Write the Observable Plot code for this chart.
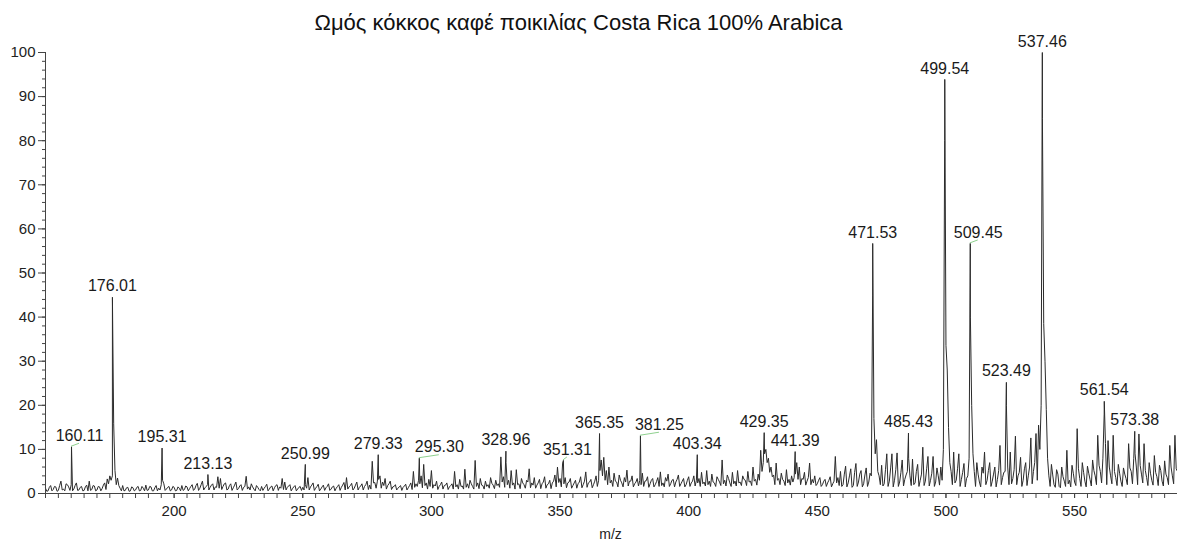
<!DOCTYPE html>
<html>
<head>
<meta charset="utf-8">
<script src="https://cdn.jsdelivr.net/npm/d3@7"></script>
<script src="https://cdn.jsdelivr.net/npm/@observablehq/plot@0.6"></script>
<style>
  html, body { margin: 0; padding: 0; background: #fff; }
  #chart svg { display: block; }
</style>
</head>
<body>
<div id="chart"></div>
<script>
// ---------- DATA ----------
const title = "Ωμός κόκκος καφέ ποικιλίας Costa Rica 100% Arabica";
const xLabel = "m/z";

// profile intensities on a 1-unit m/z grid, starting at m/z 150 (relative abundance, %)
const gridStart = 150;
const gridIntensity = [
  1.2, 0.6, 1.8, 0.9, 1.5, 0.7, 2.8, 1.0, 2.2, 1.5,   // 150
  2.0, 1.0, 2.4, 0.8, 1.6, 0.7, 1.9, 2.8, 0.9, 1.7,   // 160
  0.8, 1.5, 1.1, 2.4, 3.3, 4.0, 4.0, 5.2, 3.5, 1.2,   // 170
  1.8, 0.7, 1.4, 0.6, 1.3, 0.8, 1.6, 0.7, 1.2, 1.9,   // 180
  0.8, 1.5, 0.6, 1.8, 1.2, 2.0, 2.2, 1.0, 1.6, 0.8,   // 190
  1.4, 0.7, 1.2, 1.8, 0.9, 1.5, 1.1, 2.0, 1.0, 2.3,   // 200
  1.2, 2.8, 1.3, 2.0, 1.4, 2.2, 1.5, 3.8, 3.4, 1.6,   // 210
  2.4, 1.0, 2.2, 1.3, 2.6, 1.1, 2.0, 1.4, 3.9, 1.5,   // 220
  2.2, 1.0, 1.8, 0.9, 1.6, 1.2, 2.1, 1.0, 1.7, 1.3,   // 230
  2.0, 1.5, 3.4, 2.6, 1.4, 2.0, 1.1, 1.8, 1.0, 1.6,   // 240
  1.4, 2.0, 3.6, 1.5, 2.4, 1.2, 2.1, 1.0, 1.9, 1.3,   // 250
  2.2, 1.0, 1.7, 1.2, 2.0, 1.4, 2.5, 3.6, 1.5, 2.3,   // 260
  1.2, 2.6, 1.4, 2.2, 1.6, 2.8, 1.9, 7.3, 2.5, 2.8,   // 270
  4.0, 2.6, 3.4, 1.8, 2.8, 1.5, 2.0, 1.2, 1.8, 1.4,   // 280
  2.1, 1.3, 2.4, 5.0, 2.2, 3.0, 4.0, 6.6, 2.4, 3.2,   // 290
  5.2, 2.0, 2.8, 1.6, 2.6, 1.8, 2.4, 1.5, 2.2, 5.0,   // 300
  2.0, 3.2, 1.7, 5.5, 2.2, 3.0, 1.6, 7.5, 2.4, 3.4,   // 310
  1.8, 2.8, 2.0, 3.6, 1.9, 3.0, 2.2, 8.3, 3.8, 7.0,   // 320
  3.0, 5.2, 2.4, 5.4, 2.2, 3.4, 2.0, 3.0, 5.6, 2.4,   // 330
  3.6, 1.9, 3.2, 2.2, 3.8, 2.0, 3.0, 2.4, 4.2, 6.0,   // 340
  3.4, 6.9, 3.6, 2.4, 3.4, 1.8, 3.0, 2.2, 3.8, 2.0,   // 350
  4.9, 2.4, 3.2, 2.0, 4.0, 3.0, 7.6, 8.2, 5.2, 6.0,   // 360
  3.0, 4.6, 2.6, 4.2, 2.4, 3.6, 5.3, 2.8, 4.0, 2.2,   // 370
  3.4, 3.0, 4.6, 2.8, 3.8, 2.2, 3.4, 2.0, 3.6, 4.9,   // 380
  2.4, 3.6, 4.4, 2.2, 3.2, 2.6, 4.2, 2.2, 3.4, 2.0,   // 390
  3.8, 2.4, 4.0, 3.0, 3.4, 4.8, 2.6, 5.2, 2.8, 4.4,   // 400
  2.4, 3.8, 2.6, 7.6, 3.0, 4.2, 2.4, 4.8, 2.8, 5.2,   // 410
  2.6, 4.0, 3.0, 5.0, 2.8, 6.0, 3.2, 4.4, 9.8, 7.0,   // 420
  10.0, 8.0, 6.0, 4.2, 6.9, 3.4, 4.6, 2.8, 5.4, 3.2,  // 430
  4.0, 3.6, 7.0, 6.0, 3.4, 4.8, 2.8, 6.9, 3.2, 4.0,   // 440
  2.2, 3.6, 2.0, 3.2, 2.4, 3.8, 2.2, 8.4, 3.6, 5.0,   // 450
  2.0, 6.2, 2.4, 5.6, 1.8, 6.8, 2.6, 5.2, 2.2, 5.8,   // 460
  2.6, 4.0, 17.0, 12.2, 4.0, 6.4, 2.2, 9.0, 2.8, 9.0, // 470
  3.0, 9.2, 2.6, 7.6, 3.2, 5.0, 4.0, 7.8, 2.4, 6.6,   // 480
  3.0, 10.5, 2.8, 8.4, 3.0, 8.4, 2.6, 4.0, 6.0, 10.0, // 490
  33.6, 15.0, 5.0, 9.4, 3.0, 9.0, 3.2, 6.8, 3.4, 8.0, // 500
  20.0, 5.0, 7.0, 2.6, 6.0, 9.4, 3.0, 7.0, 2.8, 6.0,  // 510
  3.2, 10.9, 3.6, 5.0, 6.0, 9.4, 3.4, 13.0, 4.0, 8.2, // 520
  3.0, 7.0, 4.0, 12.6, 5.0, 13.6, 15.5, 20.0, 38.5, 19.0, // 530
  4.0, 6.6, 2.0, 5.4, 1.6, 6.0, 2.8, 9.8, 3.0, 6.4,   // 540
  2.6, 14.7, 3.4, 7.0, 2.8, 6.2, 3.2, 7.6, 4.0, 13.2, // 550
  5.0, 8.0, 11.3, 12.0, 4.0, 13.2, 3.6, 6.6, 2.8, 5.8, // 560
  3.4, 11.3, 5.0, 8.0, 6.0, 13.5, 4.4, 11.3, 3.6, 7.0, // 570
  3.0, 8.6, 3.8, 6.4, 2.8, 7.4, 3.6, 10.9, 4.0, 13.2, // 580
  5.0                                                  // 590
];

// profile intensities at the half-unit points m/z 150.5 … 589.5
const halfIntensity = [
  0.5, 1.4, 0.6, 1.6, 0.5, 1.8, 0.8, 0.6, 2.0, 0.7,   // 150.5
  0.6, 1.8, 0.7, 1.4, 0.6, 1.5, 0.6, 0.7, 1.8, 0.6,   // 160.5
  1.6, 0.6, 1.9, 0.9, 2.2, 3.0, 15.8, 2.0, 1.8, 0.6,  // 170.5
  0.6, 1.3, 0.5, 1.5, 0.6, 1.4, 0.6, 1.6, 0.6, 0.7,   // 180.5
  1.6, 0.6, 1.3, 0.6, 0.8, 3.0, 0.7, 1.4, 0.6, 1.6,   // 190.5
  0.6, 1.5, 0.6, 0.7, 1.7, 0.6, 1.6, 0.7, 1.8, 0.7,   // 200.5
  2.0, 0.8, 1.6, 0.8, 1.9, 0.8, 1.4, 1.2, 0.9, 2.2,   // 210.5
  0.8, 1.8, 0.7, 1.9, 0.8, 1.7, 0.7, 1.6, 1.0, 0.8,   // 220.5
  1.5, 0.6, 1.4, 0.6, 0.7, 1.6, 0.6, 1.5, 0.6, 1.8,   // 230.5
  0.7, 1.2, 0.9, 0.8, 1.7, 0.6, 1.5, 0.6, 1.4, 0.7,   // 240.5
  0.8, 1.2, 0.8, 1.9, 0.7, 1.6, 0.6, 1.5, 0.7, 1.6,   // 250.5
  0.7, 1.5, 0.6, 1.6, 0.7, 1.9, 0.8, 1.0, 1.8, 0.8,   // 260.5
  1.9, 0.8, 1.7, 0.8, 2.0, 0.9, 1.0, 2.4, 1.2, 3.2,   // 270.5
  1.2, 1.8, 1.0, 2.2, 0.9, 1.6, 0.8, 1.5, 0.7, 1.7,   // 280.5
  0.8, 1.8, 0.9, 1.4, 1.6, 2.2, 1.3, 1.8, 1.0, 1.6,   // 290.5
  1.2, 1.7, 0.9, 2.0, 1.0, 1.9, 0.9, 1.8, 1.0, 1.5,   // 300.5
  1.0, 1.6, 1.0, 1.4, 1.2, 2.2, 1.0, 1.6, 1.1, 1.9,   // 310.5
  1.0, 1.6, 1.2, 2.3, 1.1, 1.8, 1.4, 2.6, 1.4, 2.0,   // 320.5
  1.2, 1.9, 1.0, 2.0, 1.1, 2.4, 1.2, 2.6, 1.3, 1.9,   // 330.5
  1.2, 2.4, 1.1, 2.6, 1.2, 2.2, 1.1, 2.8, 1.5, 2.5,   // 340.5
  1.5, 2.2, 1.3, 2.6, 1.2, 2.4, 1.2, 2.6, 1.3, 2.8,   // 350.5
  1.4, 2.6, 1.3, 2.8, 1.6, 5.2, 4.0, 3.0, 2.0, 2.4,   // 360.5
  1.6, 2.8, 1.5, 3.0, 1.5, 2.6, 1.7, 2.8, 1.5, 2.6,   // 370.5
  1.7, 2.0, 1.6, 2.9, 1.4, 3.0, 1.5, 2.7, 1.6, 1.8,   // 380.5
  1.5, 2.8, 1.6, 3.0, 1.5, 3.2, 1.6, 2.8, 1.5, 3.0,   // 390.5
  1.6, 2.8, 1.7, 2.4, 1.6, 2.2, 1.7, 2.0, 1.6, 2.6,   // 400.5
  1.6, 3.2, 1.8, 2.2, 1.7, 3.4, 1.6, 2.2, 1.7, 2.4,   // 410.5
  1.8, 3.2, 1.8, 2.6, 1.8, 2.8, 1.9, 3.0, 5.0, 9.0,   // 420.5
  7.0, 4.8, 3.8, 2.0, 3.0, 2.0, 3.2, 1.8, 2.4, 1.9,   // 430.5
  2.6, 4.4, 3.2, 2.0, 3.2, 1.9, 3.6, 2.0, 2.4, 1.8,   // 440.5
  3.0, 1.6, 2.8, 1.6, 3.0, 1.5, 2.8, 2.4, 1.8, 1.6,   // 450.5
  4.4, 1.5, 4.0, 1.4, 4.8, 1.6, 4.4, 1.5, 4.2, 1.6,   // 460.5
  4.6, 45.0, 9.0, 5.0, 2.0, 1.7, 5.4, 1.6, 5.8, 1.5,  // 470.5
  5.4, 1.6, 4.8, 1.7, 4.2, 8.0, 1.8, 2.0, 5.0, 1.6,   // 480.5
  4.4, 1.8, 5.6, 1.7, 4.6, 1.6, 5.8, 1.9, 3.0, 80.0,  // 490.5
  28.0, 7.0, 2.0, 2.4, 5.6, 1.6, 4.8, 1.5, 4.0, 40.0, // 500.5
  9.0, 1.6, 4.4, 1.5, 4.6, 2.0, 5.2, 1.6, 4.4, 1.5,   // 510.5
  5.2, 2.0, 4.8, 20.0, 2.0, 2.2, 5.4, 2.0, 4.8, 1.6,  // 520.5
  5.6, 1.8, 6.0, 2.2, 7.0, 3.0, 10.0, 85.0, 30.0, 8.0, // 530.5
  1.6, 4.2, 1.4, 4.4, 1.3, 3.8, 1.6, 2.2, 1.5, 4.6,   // 540.5
  1.8, 5.6, 1.6, 4.8, 1.5, 4.6, 1.7, 5.2, 2.0, 6.4,   // 550.5
  2.4, 18.0, 2.0, 6.0, 2.2, 5.0, 1.8, 4.6, 1.6, 4.4,  // 560.5
  2.0, 5.8, 2.2, 9.0, 2.0, 6.4, 2.4, 5.2, 1.8, 4.6,   // 570.5
  1.9, 4.8, 1.8, 5.2, 1.7, 4.4, 2.0, 6.0, 2.2, 5.6    // 580.5
];

// labelled peaks
const peakMz = [160.11, 176.01, 195.31, 213.13, 250.99, 279.33, 295.30, 328.96, 351.31, 365.35,
                381.25, 403.34, 429.35, 441.39, 471.53, 485.43, 499.54, 509.45, 523.49, 537.46,
                561.54, 573.38];
const peakIntensity = [10.6, 44.5, 10.3, 4.3, 6.6, 8.8, 8.0, 9.6, 7.5, 13.6,
                       13.1, 8.8, 13.8, 9.5, 56.7, 13.7, 93.9, 56.7, 25.2, 100,
                       20.9, 14.1];

// axis ticks
const xMajorTicks = [200, 250, 300, 350, 400, 450, 500, 550];
const yMajorTicks = [0, 10, 20, 30, 40, 50, 60, 70, 80, 90, 100];

// ---------- BUILD ----------
const gridRows = gridIntensity.map((v, i) => ({mz: gridStart + i, intensity: v}));
const halfRows = halfIntensity.map((v, i) => ({mz: gridStart + i + 0.5, intensity: v}));
const peakRows = peakMz.map((m, i) => ({mz: m, intensity: peakIntensity[i], label: m.toFixed(2)}));
const spectrum = [...gridRows, ...halfRows, ...peakRows].sort((a, b) => a.mz - b.mz);

// horizontal label nudges (px) for labels drawn with a leader line
const nudge = {"160.11": 8, "295.30": 20, "351.31": 4, "381.25": 19, "509.45": 8};

const xMinorTicks = d3.range(150, 591, 5);
const yMinorTicks = d3.range(0, 101, 2);

function leaderMark(index, scales) {
  const g = d3.create("svg:g");
  const sx = scales && (scales.x || (scales.scales && scales.scales.x));
  const sy = scales && (scales.y || (scales.scales && scales.scales.y));
  if (typeof sx !== "function" || typeof sy !== "function") return g.node();
  for (const p of peakRows) {
    const n = nudge[p.label];
    if (!n) continue;
    const px = sx(p.mz), py = sy(p.intensity);
    g.append("line")
      .attr("x1", px).attr("y1", py)
      .attr("x2", px + n).attr("y2", py - 3)
      .attr("stroke", "#8fd18f").attr("stroke-width", 1);
  }
  return g.node();
}

const labelMarks = peakRows.map(p => Plot.text([p], {
  x: "mz", y: "intensity", text: "label",
  dy: -11, dx: nudge[p.label] || 0,
  lineAnchor: "middle", textAnchor: "middle",
  fontSize: 16, fill: "#1a1a1a"
}));

const chart = Plot.plot({
  width: 1177,
  height: 542,
  marginTop: 52,
  marginBottom: 49,
  marginLeft: 45,
  marginRight: 0,
  style: {fontFamily: "'Liberation Sans', Arial, sans-serif", fontSize: "15px", color: "#222", background: "#fff", overflow: "visible"},
  x: {domain: [150, 590]},
  y: {domain: [0, 100]},
  marks: [
    Plot.line(spectrum, {x: "mz", y: "intensity", stroke: "#2b2b2b", strokeWidth: 1}),
    Plot.ruleY([0], {stroke: "#444"}),
    Plot.ruleX([150], {y1: 0, y2: 100, stroke: "#444"}),
    Plot.axisY({ticks: yMinorTicks, tickSize: 3, tickFormat: () => "", label: null, stroke: "#444"}),
    Plot.axisY({ticks: yMajorTicks, tickSize: 7, tickPadding: 3, label: null, stroke: "#444", fontSize: 15}),
    Plot.axisX({ticks: xMinorTicks, tickSize: 5, tickFormat: () => "", label: null, stroke: "#444"}),
    Plot.axisX({ticks: xMajorTicks, tickSize: 5, tickPadding: 7, label: null, stroke: "#444", fontSize: 15, tickFormat: d => String(d)}),
    leaderMark,
    ...labelMarks,
    Plot.text([title], {frameAnchor: "top", dy: -30, dx: -33, lineAnchor: "middle", fontSize: 22, fill: "#111"}),
    Plot.text([xLabel], {frameAnchor: "bottom", dy: 41, dx: -1, lineAnchor: "middle", fontSize: 14, fill: "#222"})
  ]
});
document.getElementById("chart").appendChild(chart);
</script>
</body>
</html>
